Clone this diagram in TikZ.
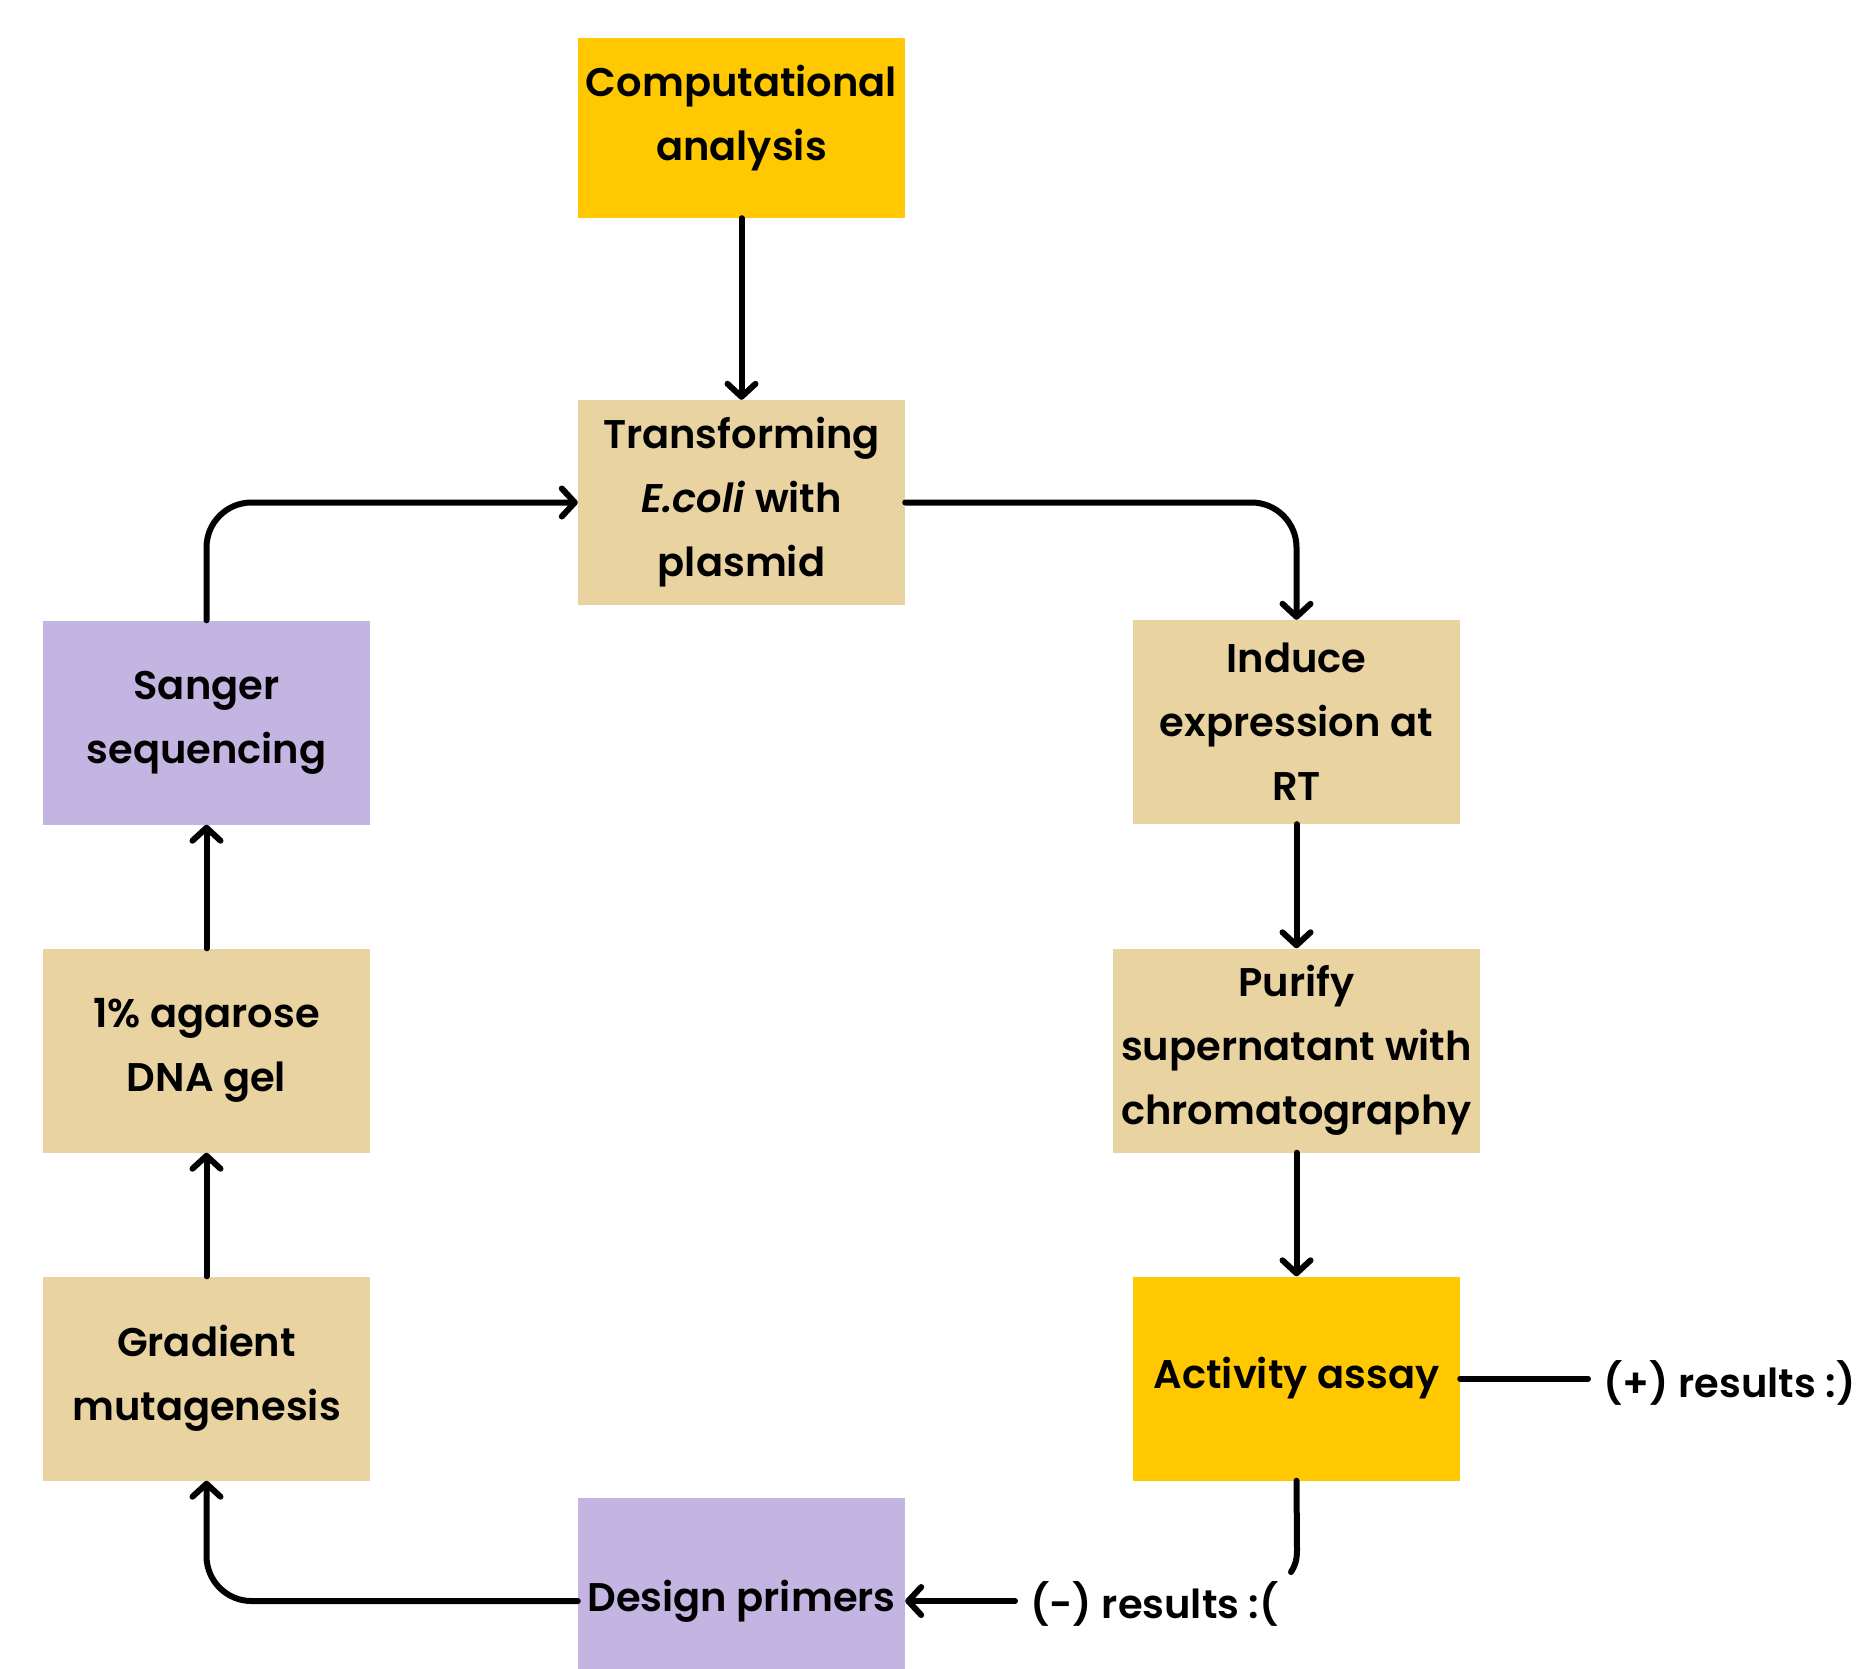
\documentclass[tikz,border=0pt]{standalone}
\usepackage{fontspec}
\setmainfont{Poppins}[BoldFont={Poppins SemiBold}, BoldItalicFont={Poppins SemiBold Italic}]
\usetikzlibrary{arrows.meta}
\definecolor{boxtan}{RGB}{232,211,161}
\definecolor{boxgold}{RGB}{255,200,0}
\definecolor{boxlilac}{RGB}{196,180,226}
\tikzstyle{stepfont}=[align=center, font=\fontsize{40}{64}\selectfont\bfseries]
\tikzstyle{stepbox}=[rectangle, anchor=center, minimum width=327pt,
minimum height=204pt, inner sep=0pt, stepfont, yshift=0pt]
\tikzstyle{flow}=[line width=6pt, line cap=round, rounded corners=45pt,
-{Straight Barb[length=13pt,width=28pt,line cap=round,line join=round]}]
\tikzstyle{outcome}=[anchor=west, inner sep=0pt,
font=\fontsize{40}{64}\selectfont\bfseries]

\begin{document}
\begin{tikzpicture}[x=1pt,y=-1pt]
\useasboundingbox (0,0) rectangle (1857,1668);
\clip (0,0) rectangle (1857,1668);

% Top of the cycle
\node[stepbox, fill=boxgold, minimum height=180pt,
	label={[stepfont, yshift=10pt]center:Computational\\analysis}] (comp) at (741.5,128) {};
\node[stepbox, fill=boxtan, minimum height=205pt] (trans) at (741.5,502.5) {Transforming\\\textit{E.coli} with\\plasmid};

% Right column
\node[stepbox, fill=boxtan] (induce) at (1296.5,722) {Induce\\expression at\\RT};
\node[stepbox, fill=boxtan, minimum width=367pt] (purify) at (1296.5,1050.5) {Purify\\supernatant with\\chromatography};
\node[stepbox, fill=boxgold] (assay) at (1296.5,1378.5) {Activity assay};

% Left column
\node[stepbox, fill=boxlilac] (sanger) at (206.5,722.5) {Sanger\\sequencing};
\node[stepbox, fill=boxtan] (agarose) at (206.5,1050.5) {1\% agarose\\DNA gel};
\node[stepbox, fill=boxtan] (gradient) at (206.5,1378.5) {Gradient\\mutagenesis};

% Bottom
\node[stepbox, fill=boxlilac, minimum height=206pt] (primers) at (741.5,1601) {Design primers};
\node[outcome] (pos) at (1603,1383) {(+) results :)};
\node[outcome] (neg) at (1030,1604) {(-) results :(};

% Arrows round the cycle
\draw[flow] (comp) -- (trans);
\draw[flow] (trans.east) -| (induce.north);
\draw[flow] (induce) -- (purify);
\draw[flow] (purify) -- (assay);
\draw[line width=6pt, line cap=round, shorten >=15pt] (assay.east) -- (assay.east -| pos.west);
\draw[line width=6pt, line cap=round] (assay.south) -- (1297,1550)
	.. controls (1297,1560) and (1295,1566) .. (1291,1572);
\draw[flow] (neg.west) ++(-15,-3) -- (primers.east);
\draw[flow] (primers.west) -| (gradient.south);
\draw[flow] (gradient) -- (agarose);
\draw[flow] (agarose) -- (sanger);
\draw[flow] (sanger.north) |- (trans.west);

\end{tikzpicture}
\end{document}
